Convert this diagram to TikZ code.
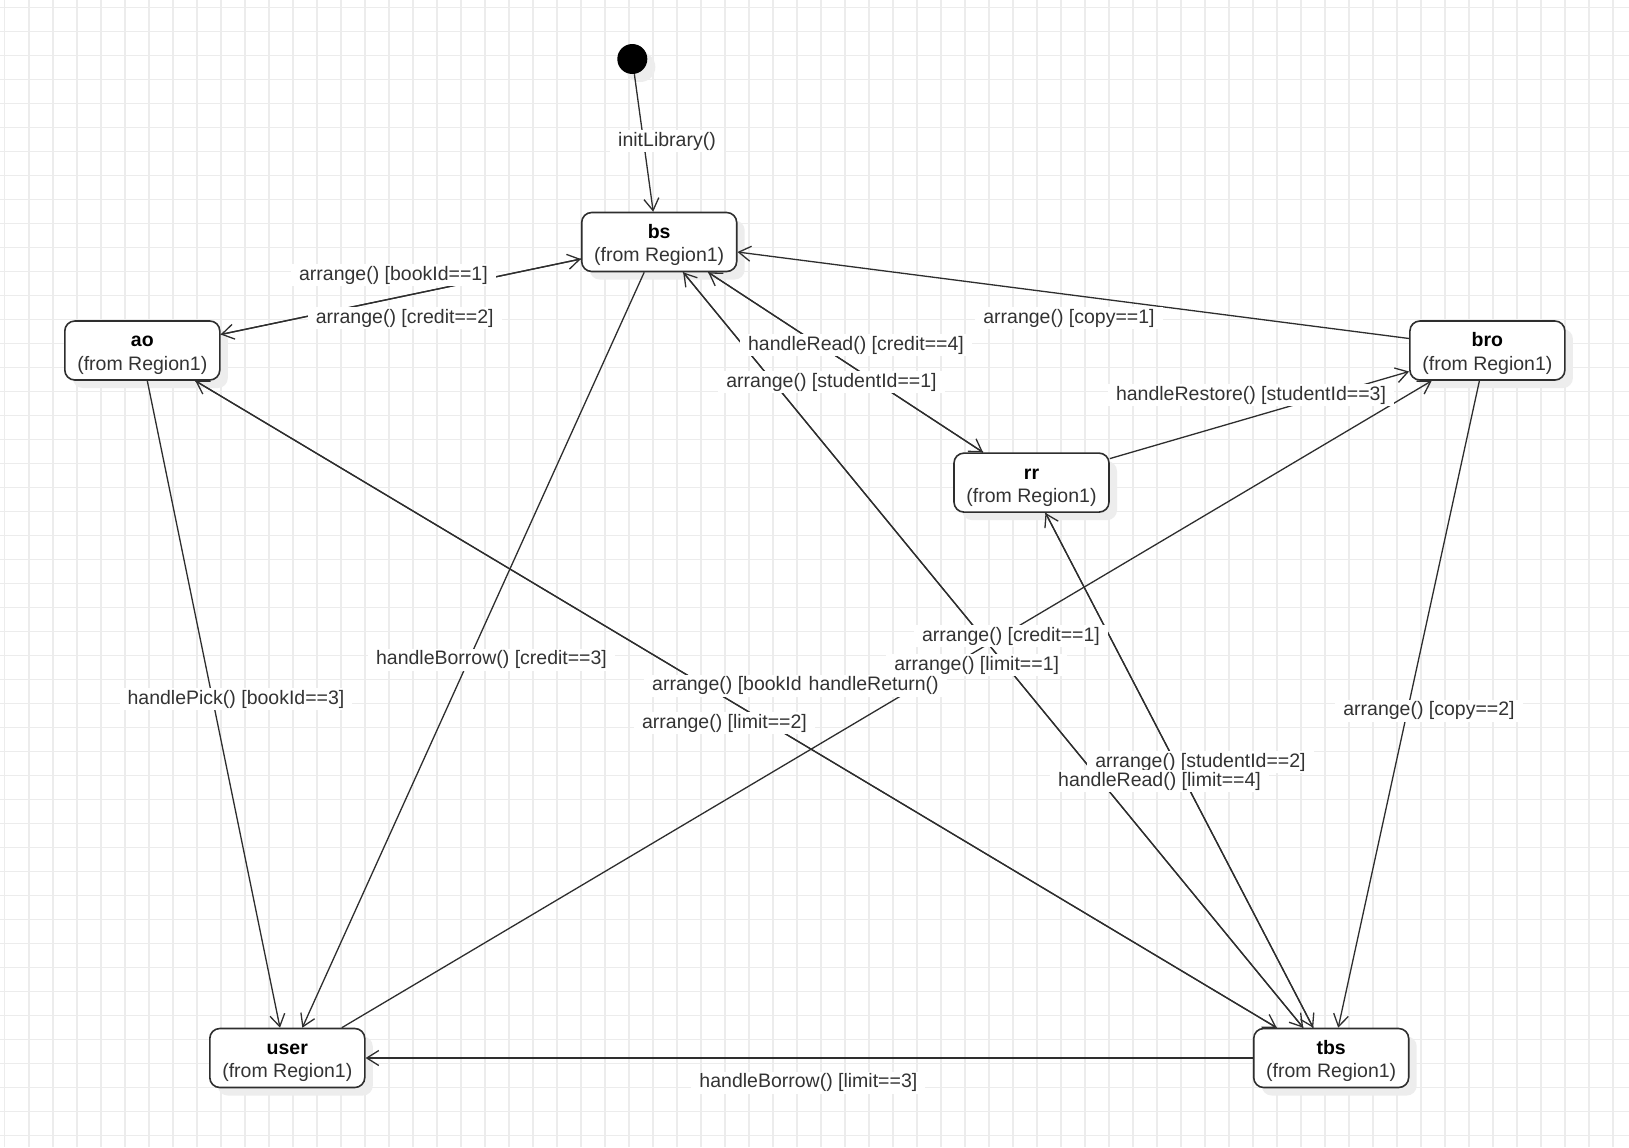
\documentclass[tikz,border=0pt]{standalone}
\usepackage{fontspec}
\setmainfont{Liberation Sans}
\usetikzlibrary{arrows.meta,calc,shadows}
\definecolor{gridc}{HTML}{ECECEC}
\definecolor{ink}{HTML}{2E2E2E}
\definecolor{txt}{HTML}{333333}
\newcommand{\stt}[1]{\rule{0pt}{10.1pt}\textbf{\color{black}#1}\\(from Region1)}
\begin{document}
\begin{tikzpicture}[x=0.5pt,y=-0.5pt,
  state/.style={draw=ink, line width=0.8pt, rounded corners=5pt, fill=white,
    minimum width=77.5pt, minimum height=29.5pt, align=center, inner sep=0pt,
    font=\fontsize{9.75}{11.6}\selectfont, text=txt,
    drop shadow={shadow xshift=4pt,shadow yshift=-4pt,fill=black!7,opacity=1}},
  initial/.style={circle, fill=black, minimum size=15pt, inner sep=0pt,
    drop shadow={shadow xshift=4pt,shadow yshift=-4pt,fill=black!7,opacity=1}},
  lbl/.style={fill=white, inner xsep=4pt, inner ysep=1pt, yshift=-1pt,
    font=\fontsize{9.75}{11.6}\selectfont, text=txt},
  trans/.style={draw=ink, line width=0.65pt,
    -{Straight Barb[length=6pt,width=7.5pt,line width=0.65pt]}},
]
\useasboundingbox (0,0) rectangle (1629,1147);
\fill[white] (0,0) rectangle (1629,1147);
\foreach \gx in {0,...,67} \draw[gridc, line width=0.8pt] ({4.7+24*\gx},0) -- ({4.7+24*\gx},1147);
\foreach \gy in {0,...,47} \draw[gridc, line width=0.8pt] (0,{7.5+24*\gy}) -- (1629,{7.5+24*\gy});

% states
\node[initial] (init) at (632.3,59) {};
\node[state] (bs)   at (659.2,242)   {\stt{bs}};
\node[state] (ao)   at (142.3,350.5) {\stt{ao}};
\node[state] (bro)  at (1487.4,350.5){\stt{bro}};
\node[state] (rr)   at (1031.5,482.6){\stt{rr}};
\node[state] (user) at (287.3,1058)  {\stt{user}};
\node[state] (tbs)  at (1331.2,1058) {\stt{tbs}};

% transitions
\draw[trans] (init) -- ($(bs.north)+(-6,0)$);
\draw[trans] ($(ao.east)+(0,-16)$) -- ($(bs.west)+(0,17)$);
\draw[trans] ($(bs.west)+(0,17)$) -- ($(ao.east)+(0,-16)$);
\draw[trans] ($(bs.south)+(-15,0)$) -- ($(user.north)+(15,0)$);
\draw[trans] ($(bs.south)+(49,0)$) -- ($(rr.north)+(-48.5,0)$);
\draw[trans] ($(rr.north)+(-48.5,0)$) -- ($(bs.south)+(49,0)$);
\draw[trans] ($(bs.south)+(24,0)$) -- ($(tbs.north)+(-28,0)$);
\draw[trans] ($(tbs.north)+(-28,0)$) -- ($(bs.south)+(24,0)$);
\draw[trans] ($(rr.south)+(14,0)$) -- ($(tbs.north)+(-18,0)$);
\draw[trans] ($(tbs.north)+(-18,0)$) -- ($(rr.south)+(14,0)$);
\draw[trans] ($(bro.west)+(0,-12)$) -- ($(bs.east)+(0,10)$);
\draw[trans] ($(rr.east)+(0,-24)$) -- ($(bro.west)+(0,21)$);
\draw[trans] ($(user.north)+(54.5,0)$) -- ($(bro.south)+(-55.7,0)$);
\draw[trans] ($(ao.south)+(53,0)$) -- ($(tbs.north)+(-54.5,0)$);
\draw[trans] ($(tbs.north)+(-54.5,0)$) -- ($(ao.south)+(53,0)$);
\draw[trans] ($(ao.south)+(5,0)$) -- ($(user.north)+(-7.3,0)$);
\draw[trans] ($(bro.south)+(-8,0)$) -- ($(tbs.north)+(7,0)$);
\draw[trans] (tbs) -- (user);

% labels
\node[lbl] (l1)  at (667,139)      {initLibrary()};
\node[lbl] (l2)  at (393.4,273.3)  {arrange() [bookId==1]};
\node[lbl] (l3)  at (404.7,316)    {arrange() [credit==2]};
\node[lbl] (l4)  at (491.5,657.7)  {handleBorrow() [credit==3]};
\node[lbl] (l5)  at (856,343)      {handleRead() [credit==4]};
\node[lbl] (l6)  at (831.5,380)    {arrange() [studentId==1]};
\node[lbl] (l7)  at (1069,316)     {arrange() [copy==1]};
\node[lbl] (l8)  at (1251,393)     {handleRestore() [studentId==3]};
\node[lbl] (l9)  at (1011,634)     {arrange() [credit==1]};
\node[lbl] (l10) at (976.7,663)    {arrange() [limit==1]};
\node[lbl] (l11) at (746.5,683.7)  {arrange() [bookId==2]};
\node[lbl] (l12) at (873.7,683.7)  {handleReturn()};
\node[lbl] (l13) at (724.5,721)    {arrange() [limit==2]};
\node[lbl] (l14) at (236,697.2)    {handlePick() [bookId==3]};
\node[lbl] (l15) at (1429,708.6)   {arrange() [copy==2]};
\node[lbl] (l16) at (1200.5,760)   {arrange() [studentId==2]};
\node[lbl] (l17) at (1159.5,779)   {handleRead() [limit==4]};
\node[lbl] (l18) at (808.4,1080.6) {handleBorrow() [limit==3]};
\end{tikzpicture}
\end{document}
